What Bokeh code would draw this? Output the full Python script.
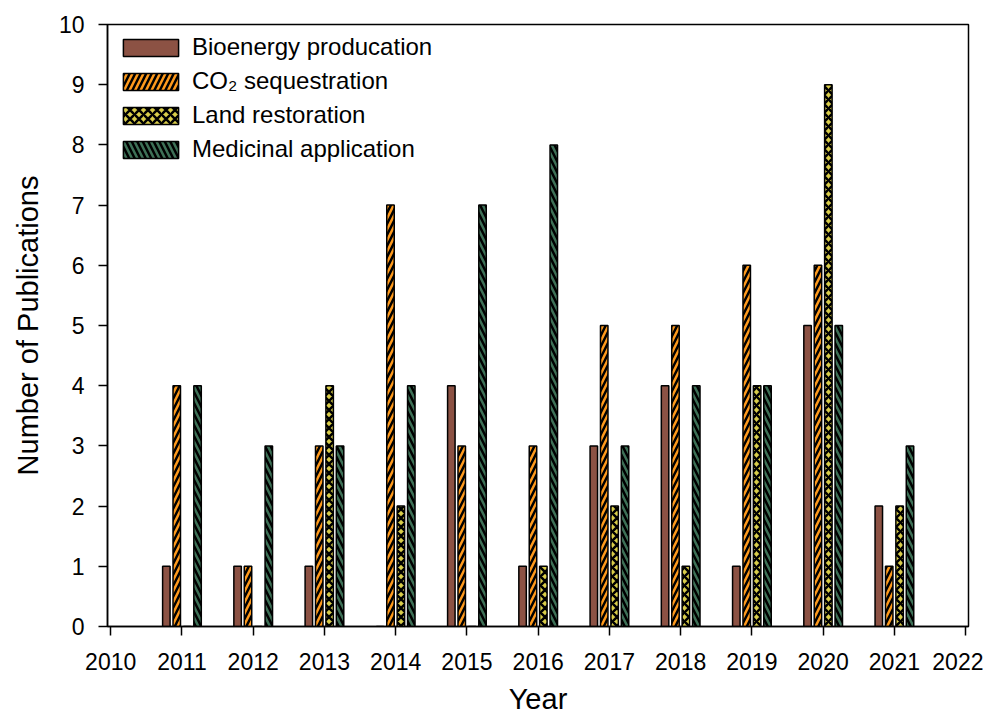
from bokeh.plotting import figure
from bokeh.models import ColumnDataSource, Legend, LegendItem, Range1d, FixedTicker
from bokeh.transform import dodge
from bokeh.embed import file_html
from bokeh.resources import INLINE

years = [2011, 2012, 2013, 2014, 2015, 2016, 2017, 2018, 2019, 2020, 2021]
bioenergy = [1, 1, 1, 0, 4, 1, 3, 4, 1, 5, 2]
co2 = [4, 1, 3, 7, 3, 3, 5, 5, 6, 6, 1]
land = [0, 0, 4, 2, 0, 1, 2, 1, 4, 9, 2]
medicinal = [4, 3, 3, 4, 7, 8, 3, 4, 4, 5, 3]
series_names = ["Bioenergy producation", "CO\u2082 sequestration", "Land restoration", "Medicinal application"]
x_ticks = list(range(2010, 2023))
y_ticks = list(range(0, 11))

src = ColumnDataSource(dict(year=years, bio=bioenergy, co2=co2, land=land, med=medicinal))

FONT = "Liberation Sans"
p = figure(width=983, height=721, output_backend="svg", toolbar_location=None,
           x_range=Range1d(2009.955, 2022.04), y_range=Range1d(0, 10),
           min_border_left=107, min_border_right=15, min_border_top=24, min_border_bottom=95)
p.xgrid.visible = False
p.ygrid.visible = False
p.outline_line_color = "black"
p.outline_line_width = 1.5
p.background_fill_color = "white"

w = 0.105
styles = [
    ("bio", -0.219, "#8C5244", None, 1.0),
    ("co2", -0.073, "#FF9A1C", "/", 11),
    ("land", 0.073, "#D9CD4A", "x", 9),
    ("med", 0.219, "#3E7157", "\\", 11),
]
renderers = []
for col, off, color, hatch, scale in styles:
    kw = dict(x=dodge("year", off), top=col, bottom=0, width=w, source=src,
              fill_color=color, line_color="black", line_width=1.5)
    if hatch:
        kw.update(hatch_pattern=hatch, hatch_color="black", hatch_scale=scale,
                  hatch_weight=2.5)
    r = p.vbar(**kw)
    renderers.append(r)

legend = Legend(items=[LegendItem(label=n, renderers=[r]) for n, r in zip(series_names, renderers)],
                location=(0, 454))
legend.margin = 0
legend.padding = 9
legend.glyph_width = 69
legend.glyph_height = 21
legend.label_height = 26
legend.spacing = 6
legend.label_standoff = 7
legend.label_text_font = FONT
legend.label_text_font_size = "24px"
legend.label_text_color = "black"
legend.background_fill_alpha = 0
legend.border_line_alpha = 0
p.add_layout(legend)

for ax in (p.xaxis[0], p.yaxis[0]):
    ax.major_label_text_font = FONT
    ax.major_label_text_font_size = "23px"
    ax.major_label_text_color = "black"
    ax.axis_label_text_font = FONT
    ax.axis_label_text_font_size = "29px"
    ax.axis_label_text_font_style = "normal"
    ax.axis_label_text_color = "black"
    ax.axis_line_width = 1.5
    ax.major_tick_line_width = 1.5
    ax.major_tick_in = 0
    ax.major_tick_out = 9
    ax.minor_tick_line_color = None

p.xaxis.ticker = FixedTicker(ticks=x_ticks)
p.yaxis.ticker = FixedTicker(ticks=y_ticks)
p.xaxis.axis_label = "Year"
p.yaxis.axis_label = "Number of Publications"
p.xaxis.major_label_standoff = 17
p.yaxis.major_label_standoff = 14
p.xaxis.axis_label_standoff = 10
p.yaxis.axis_label_standoff = 12

open("out.html", "w").write(file_html(p, INLINE))
